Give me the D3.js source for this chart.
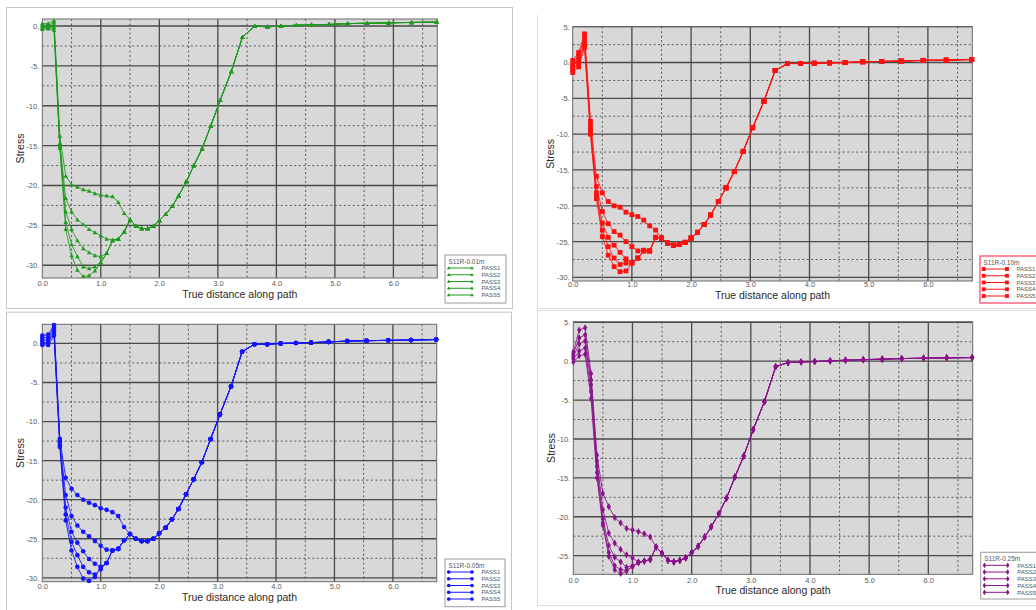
<!DOCTYPE html>
<html>
<head>
<meta charset="utf-8">
<script src="https://cdn.jsdelivr.net/npm/d3@7"></script>
<style>
  body { margin: 0; background: #fff; }
  svg { display: block; font-family: "Liberation Sans", Arial, sans-serif; }
</style>
</head>
<body>
<svg id="chart" width="1036" height="610"></svg>
<script>
// Path stations (true distance along path) shared by every pass
const distance = [0, 0.1, 0.2, 0.3, 0.4, 0.5, 0.6, 0.7, 0.8, 0.9, 1.0, 1.1, 1.2, 1.3, 1.4, 1.5,
  1.6, 1.7, 1.8, 1.9, 2.0, 2.11, 2.22, 2.33, 2.46, 2.59, 2.73, 2.88, 3.04, 3.23, 3.42,
  3.63, 3.85, 4.08, 4.34, 4.6, 4.9, 5.22, 5.55, 5.92, 6.31, 6.74];

const passNames = ["PASS1", "PASS2", "PASS3", "PASS4", "PASS5"];
const xTickValues = [0, 1, 2, 3, 4, 5, 6];

// S11R at 0.01 m : stations 0.0 - 1.5 per pass, then the common branch from 1.6 on
const s001Head = [
  [0.3, 0.3, 0.7, -13.8, -18.8, -19.9, -20.2, -20.5, -20.7, -21.0, -21.2, -21.3, -21.4, -22.1, -23.5, -24.3],
  [0.1, 0.1, 0.4, -14.7, -21.6, -23.3, -24.3, -24.9, -25.5, -25.9, -26.3, -26.7, -26.8, -26.7, -25.8, -24.3],
  [-0.1, -0.1, 0.1, -14.9, -23.3, -25.5, -26.9, -27.9, -28.4, -28.8, -28.9, -28.5, -26.9, -26.7, -25.8, -24.3],
  [-0.25, -0.2, -0.2, -15.1, -24.6, -27.4, -28.9, -30.2, -30.4, -30.2, -29.6, -28.5, -26.9, -26.7, -25.8, -24.3],
  [-0.4, -0.35, -0.5, -15.3, -25.5, -28.8, -30.6, -31.4, -31.3, -30.7, -29.7, -28.5, -26.9, -26.7, -25.8, -24.3]
];
const s001Tail = [-25.1, -25.4, -25.4, -25.1, -24.4, -23.6, -22.6, -21.3, -19.5, -17.5, -15.4,
  -12.5, -9.3, -5.7, -1.4, 0.0, -0.1, 0.0, 0.1, 0.15, 0.2, 0.3, 0.35, 0.4, 0.45, 0.5];

// S11R at 0.10 m
const s010Head = [
  [0.3, 1.4, 4.0, -8.2, -15.9, -18.2, -19.4, -20.0, -20.2, -20.9, -21.25, -21.5, -22.0, -22.8, -23.4, -24.5],
  [-0.2, 0.9, 3.5, -8.7, -17.3, -20.8, -22.5, -23.6, -24.1, -25.0, -25.7, -26.3, -26.2, -26.3, -24.4, -24.5],
  [-0.6, 0.4, 3.0, -9.2, -18.2, -22.4, -24.4, -25.5, -26.5, -27.4, -27.9, -27.3, -26.3, -26.3, -24.4, -24.5],
  [-1.0, -0.1, 2.5, -9.6, -18.6, -23.4, -25.7, -27.3, -28.2, -28.0, -28.0, -27.3, -26.3, -26.3, -24.4, -24.5],
  [-1.4, -0.6, 2.1, -10.0, -19.0, -24.3, -26.9, -28.5, -29.2, -29.1, -28.0, -27.3, -26.3, -26.3, -24.4, -24.5]
];
const s010Tail = [-25.2, -25.5, -25.4, -25.1, -24.5, -23.7, -22.6, -21.3, -19.4, -17.5, -15.2,
  -12.4, -9.1, -5.4, -1.1, -0.14, -0.14, -0.1, -0.05, 0.0, 0.1, 0.15, 0.2, 0.3, 0.33, 0.42];

// S11R at 0.05 m
const s005Head = [
  [1.0, 1.15, 2.35, -12.2, -17.2, -18.6, -19.4, -20.0, -20.4, -20.7, -21.1, -21.3, -21.6, -22.1, -23.5, -24.4],
  [0.7, 0.8, 2.0, -12.5, -19.4, -22.1, -23.3, -24.1, -24.7, -25.3, -25.9, -26.4, -26.5, -26.3, -25.2, -24.4],
  [0.4, 0.45, 1.7, -12.7, -21.0, -24.1, -25.5, -26.6, -27.6, -28.2, -28.6, -28.1, -26.5, -26.3, -25.2, -24.4],
  [0.1, 0.1, 1.35, -13.0, -21.9, -25.4, -27.1, -28.6, -29.3, -29.6, -28.9, -28.1, -26.5, -26.3, -25.2, -24.4],
  [-0.2, -0.2, 1.0, -13.25, -22.65, -26.5, -28.6, -30.1, -30.4, -29.9, -28.7, -28.1, -26.5, -26.3, -25.2, -24.4]
];
const s005Tail = [-25.0, -25.3, -25.3, -25.0, -24.3, -23.6, -22.5, -21.2, -19.3, -17.4, -15.2,
  -12.25, -9.1, -5.5, -1.07, -0.1, -0.1, 0.0, 0.05, 0.1, 0.2, 0.3, 0.35, 0.4, 0.43, 0.5];

// S11R at 0.25 m
const s025Head = [
  [1.2, 4.0, 4.3, -1.6, -12.1, -17.0, -18.7, -20.1, -20.8, -21.5, -21.7, -21.9, -22.2, -22.6, -23.9, -24.7],
  [0.9, 3.0, 3.4, -2.4, -12.8, -19.1, -22.1, -23.4, -24.2, -24.9, -25.3, -25.8, -25.7, -25.5, -23.9, -24.7],
  [0.6, 2.2, 2.6, -3.0, -13.5, -20.3, -23.7, -25.2, -25.8, -26.5, -26.3, -25.9, -25.7, -25.5, -23.9, -24.7],
  [0.3, 1.3, 1.7, -3.9, -14.3, -20.8, -24.6, -26.3, -26.8, -26.9, -26.4, -25.9, -25.7, -25.5, -23.9, -24.7],
  [-0.1, 0.7, 0.9, -4.8, -15.0, -21.1, -25.1, -26.8, -27.3, -27.0, -26.4, -25.9, -25.7, -25.5, -23.9, -24.7]
];
const s025Tail = [-25.6, -25.8, -25.6, -25.3, -24.6, -23.8, -22.6, -21.3, -19.6, -17.6, -14.9,
  -12.2, -8.8, -5.2, -0.7, -0.17, -0.1, -0.04, 0.04, 0.13, 0.2, 0.26, 0.34, 0.39, 0.43, 0.47];

const yTicksA = [0, -5, -10, -15, -20, -25, -30];
const yTicksB = [5, 0, -5, -10, -15, -20, -25, -30];
const yTicksC = [5, 0, -5, -10, -15, -20, -25];

// Marker glyphs
const markerPaths = {
  triangle: "M0,-2.3L2.3,1.7L-2.3,1.7Z",
  square: "M-2.4,-2.4H2.4V2.4H-2.4Z",
  circle: "M2.3,0A2.3,2.3 0 1,1 -2.3,0A2.3,2.3 0 1,1 2.3,0Z",
  diamond: "M0,-3.6L2.1,0L0,3.6L-2.1,0Z"
};

const panels = [
  { title: "S11R-0.01m", head: s001Head, tail: s001Tail, color: "#1e9a1e", marker: "triangle",
    frame: [6, 7, 506, 301], frameSides: "all",
    plot: [42.3, 19, 437.3, 278], yDomain: [-31.6, 0.88], yTicks: yTicksA,
    legend: [445, 255, 61, 48], legendStroke: "#9a9a9a", legendStrokeW: 1,
    xTickPad: 3, xTitleDy: 19.5 },
  { title: "S11R-0.10m", head: s010Head, tail: s010Tail, color: "#ff1010", marker: "square",
    frame: [537, 15, 520, 293], frameSides: "lb",
    plot: [572.7, 26.7, 972.3, 281], yDomain: [-30.5, 5], yTicks: yTicksB,
    legend: [980, 256, 70, 47], legendStroke: "#ff6f86", legendStrokeW: 1.6,
    xTickPad: 0.6, xTitleDy: 17.6 },
  { title: "S11R-0.05m", head: s005Head, tail: s005Tail, color: "#1414ff", marker: "circle",
    frame: [6, 311.7, 505, 310], frameSides: "all",
    plot: [42.3, 324.3, 436.7, 581.7], yDomain: [-30.5, 2.45], yTicks: yTicksA,
    legend: [445, 559, 60, 47.7], legendStroke: "#9a9a9a", legendStrokeW: 1,
    xTickPad: 2.3, xTitleDy: 19.5 },
  { title: "S11R-0.25m", head: s025Head, tail: s025Tail, color: "#8a128a", marker: "diamond",
    frame: [537, 310, 520, 295], frameSides: "ltb",
    plot: [573.3, 321.7, 972.7, 574.3], yDomain: [-27.4, 5.08], yTicks: yTicksC,
    legend: [980.7, 552.3, 70, 46.7], legendStroke: "#9a9a9a", legendStrokeW: 1,
    xTickPad: 3.3, xTitleDy: 19.5 }
];

const svg = d3.select("#chart");

panels.forEach((p) => {
  const [fx, fy, fw, fh] = p.frame;
  const g = svg.append("g");

  // Panel frame
  const frameColor = "#c6c6c6";
  if (p.frameSides === "all") {
    g.append("rect").attr("x", fx + 0.5).attr("y", fy + 0.5).attr("width", fw).attr("height", fh)
      .attr("fill", "none").attr("stroke", frameColor).attr("stroke-width", 1);
  } else {
    const sides = p.frameSides;
    if (sides.includes("l")) g.append("line").attr("x1", fx + 0.5).attr("x2", fx + 0.5)
      .attr("y1", fy).attr("y2", fy + fh).attr("stroke", "#dcdcdc");
    if (sides.includes("t")) g.append("line").attr("x1", fx).attr("x2", fx + fw)
      .attr("y1", fy + 0.5).attr("y2", fy + 0.5).attr("stroke", "#dcdcdc");
    if (sides.includes("b")) g.append("line").attr("x1", fx).attr("x2", fx + fw)
      .attr("y1", fy + fh + 0.5).attr("y2", fy + fh + 0.5).attr("stroke", "#dcdcdc");
  }

  const [x0, y0, x1, y1] = p.plot;
  const sx = d3.scaleLinear().domain([0, 6.75]).range([x0, x1]);
  const sy = d3.scaleLinear().domain(p.yDomain).range([y1, y0]);

  // Plot background
  g.append("rect").attr("x", x0).attr("y", y0).attr("width", x1 - x0).attr("height", y1 - y0)
    .attr("fill", "#d8d8d8");

  // Grid: solid major lines, dashed minor lines
  const xMinor = d3.range(0.5, 6.75, 1);
  const xMajor = d3.range(1, 6.75, 1);
  const yLo = Math.ceil(p.yDomain[0] / 2.5) * 2.5;
  const yAll = d3.range(yLo, p.yDomain[1] + 0.001, 2.5);
  const yMajor = yAll.filter(v => Math.abs(v % 5) < 1e-6);
  const yMinor = yAll.filter(v => Math.abs(v % 5) > 1e-6);

  const grid = g.append("g");
  grid.selectAll(".xmin").data(xMinor).join("line")
    .attr("x1", d => sx(d)).attr("x2", d => sx(d)).attr("y1", y0).attr("y2", y1)
    .attr("stroke", "#5a5a5a").attr("stroke-width", 1).attr("stroke-dasharray", "2,2.5");
  grid.selectAll(".ymin").data(yMinor).join("line")
    .attr("x1", x0).attr("x2", x1).attr("y1", d => sy(d)).attr("y2", d => sy(d))
    .attr("stroke", "#5a5a5a").attr("stroke-width", 1).attr("stroke-dasharray", "2,2.5");
  grid.selectAll(".xmaj").data(xMajor).join("line")
    .attr("x1", d => sx(d)).attr("x2", d => sx(d)).attr("y1", y0).attr("y2", y1)
    .attr("stroke", "#4a4a4a").attr("stroke-width", 1.3);
  grid.selectAll(".ymaj").data(yMajor).join("line")
    .attr("x1", x0).attr("x2", x1).attr("y1", d => sy(d)).attr("y2", d => sy(d))
    .attr("stroke", "#4a4a4a").attr("stroke-width", 1.3);

  g.append("rect").attr("x", x0).attr("y", y0).attr("width", x1 - x0).attr("height", y1 - y0)
    .attr("fill", "none").attr("stroke", "#6a6a6a").attr("stroke-width", 1);

  // Axes (labels only)
  const xAxis = d3.axisBottom(sx).tickValues(xTickValues).tickFormat(d3.format(".1f"))
    .tickSize(0).tickPadding(p.xTickPad);
  const yAxis = d3.axisLeft(sy).tickValues(p.yTicks).tickFormat(d => String(d) + ".")
    .tickSize(0).tickPadding(3);
  const gx = g.append("g").attr("transform", `translate(0,${y1})`).call(xAxis);
  const gy = g.append("g").attr("transform", `translate(${x0},0)`).call(yAxis);
  [gx, gy].forEach(a => {
    a.select(".domain").remove();
    a.selectAll("text").attr("fill", "#5c5c5c").attr("font-size", 7.5)
      .attr("font-family", "'Liberation Sans', Arial, sans-serif");
  });

  // Axis titles
  g.append("text").attr("x", (x0 + x1) / 2).attr("y", y1 + p.xTitleDy)
    .attr("text-anchor", "middle").attr("font-size", 10.5).attr("fill", "#2a2a2a")
    .text("True distance along path");
  g.append("text").attr("transform", `translate(${x0 - 22},${(y0 + y1) / 2}) rotate(-90)`)
    .attr("text-anchor", "middle").attr("dy", "0.35em").attr("font-size", 10.5).attr("fill", "#2a2a2a")
    .text("Stress");

  // Series
  const series = p.head.map((h, k) => ({
    name: passNames[k],
    points: distance.map((x, i) => [x, i < h.length ? h[i] : p.tail[i - h.length]])
  }));
  const line = d3.line().x(d => sx(d[0])).y(d => sy(d[1]));
  const sg = g.append("g");
  series.slice().reverse().forEach(s => {
    sg.append("path").attr("d", line(s.points)).attr("fill", "none")
      .attr("stroke", p.color).attr("stroke-width", 1).attr("stroke-opacity", 0.85);
    sg.selectAll(null).data(s.points).join("path")
      .attr("d", markerPaths[p.marker])
      .attr("transform", d => `translate(${sx(d[0])},${sy(d[1])})`)
      .attr("fill", p.color);
  });

  // Legend
  const [lx, ly, lw, lh] = p.legend;
  const lg = g.append("g");
  lg.append("rect").attr("x", lx).attr("y", ly).attr("width", lw).attr("height", lh)
    .attr("fill", "#fff").attr("stroke", p.legendStroke).attr("stroke-width", p.legendStrokeW);
  lg.append("text").attr("x", lx + 3.5).attr("y", ly + 9).attr("font-size", 6.5)
    .attr("fill", "#555").text(p.title);
  passNames.forEach((n, k) => {
    const cy = ly + 13 + k * 6.75;
    lg.append("line").attr("x1", lx + 3.7).attr("x2", lx + 27).attr("y1", cy).attr("y2", cy)
      .attr("stroke", p.color).attr("stroke-width", 1);
    [lx + 3.7, lx + 27].forEach(mx => {
      lg.append("path").attr("d", markerPaths[p.marker])
        .attr("transform", `translate(${mx},${cy}) scale(0.8)`).attr("fill", p.color);
    });
    lg.append("text").attr("x", lx + 36.5).attr("y", cy + 2.2).attr("font-size", 6)
      .attr("fill", "#555").text(n);
  });
});
</script>
</body>
</html>
